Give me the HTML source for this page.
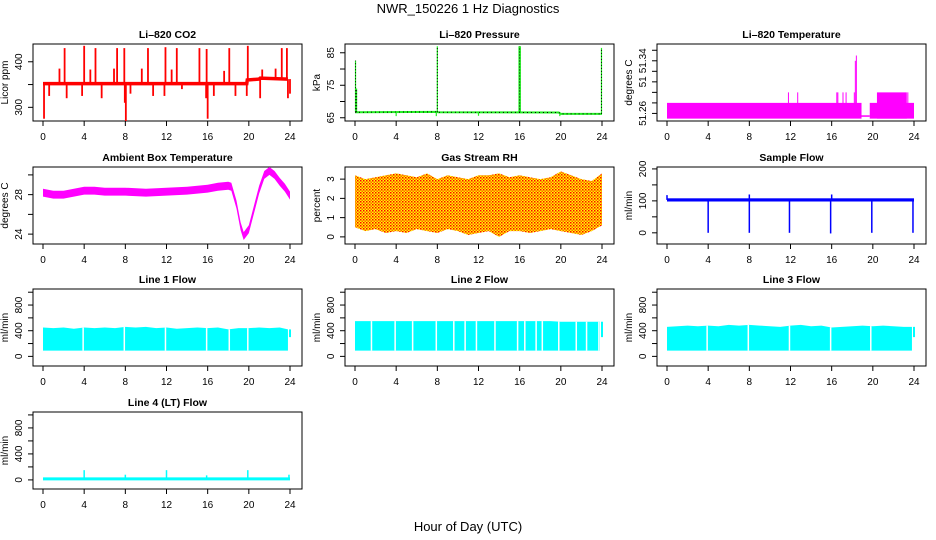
<!DOCTYPE html>
<html><head><meta charset="utf-8"><style>
body{margin:0;background:#fff}
svg{display:block;font-family:"Liberation Sans",sans-serif}
</style></head><body>
<svg id="chart" width="936" height="540" viewBox="0 0 936 540">
<defs>
<pattern id="rhpat" width="3" height="3" patternUnits="userSpaceOnUse">
<rect width="3" height="3" fill="#ffff00"/><rect x="0" y="0" width="1.5" height="1.5" fill="#ff0000"/><rect x="1.5" y="1.5" width="1.5" height="1.5" fill="#ff6000"/>
</pattern>
</defs>
<text x="468" y="13" text-anchor="middle" font-size="13">NWR_150226  1 Hz Diagnostics</text>
<text x="468" y="531" text-anchor="middle" font-size="13">Hour of Day (UTC)</text>
</svg>
<script>
const xTicks = [0,4,8,12,16,20,24];
// CO2
const co2BaseHours = [0,19.8,19.85,21.0,21.1,23.8];
const co2BaseVals = [352,352,360,362,364,362];
const co2SpikeHours = [2.1,4.0,5.1,7.2,7.9,10.2,11.9,13.0,15.2,15.9,18.1,19.9,23.2,23.7,1.6,4.6,6.9,9.6,12.5,17.6,21.3,22.6,0.1,0.6,2.3,3.8,5.7,7.95,8.05,8.5,10.7,11.8,13.5,15.85,16.0,16.6,18.7,19.8,21.1,23.8,24.0];
const co2SpikeVals = [430,435,430,430,430,430,432,430,430,428,430,435,430,430,385,383,385,385,383,380,383,385,275,325,320,325,320,310,270,330,325,325,340,320,275,325,325,325,320,320,330];
// Pressure
const presBaseHours = [0,0.2,7.9,8.1,19.8,20,24];
const presBaseVals = [66.7,66.7,66.8,66.7,66.6,66.2,66.2];
const presSpikeHours = [0.05,0.15,8.0,16.0,23.95,4.0,12.0,19.9,7.9];
const presSpikeVals = [82.6,74,87,87,86.5,65.5,65.6,65.5,65.5];
// Li-820 temperature
const tempBandStart = [0,19.7,20.4];
const tempBandEnd = [18.9,24,23.3];
const tempBandLow = [51.25,51.25,51.25];
const tempBandHigh = [51.28,51.28,51.30];
const tempFlatStart = [18.9];
const tempFlatEnd = [19.7];
const tempFlatVal = [51.255];
const tempSpikeHours = [11.8,12.7,16.5,16.6,17.1,17.4,18.2,18.3,18.4,23.4];
const tempSpikeVals = [51.30,51.30,51.30,51.30,51.30,51.30,51.30,51.36,51.37,51.30];
// Ambient box temperature
const ambHours = [0,1,2,3,4,5,6,8,10,12,14,16,17,18,18.3,18.8,19.2,19.5,20,20.5,21,21.5,22,22.5,23,23.5,24];
const ambVals = [28.2,28.0,28.0,28.2,28.4,28.4,28.3,28.3,28.2,28.3,28.4,28.6,28.8,28.9,28.8,27.0,24.8,23.8,24.5,26.5,28.5,30.0,30.4,30.0,29.3,28.7,27.9];
// Gas stream RH
const rhHours = [0,1,2,3,4,5,6,7,8,9,10,11,12,13,14,15,16,17,18,19,20,21,22,23,24];
const rhHigh = [3.2,3.0,3.1,3.2,3.3,3.2,3.1,3.3,3.0,3.2,3.1,3.0,3.2,3.2,3.3,3.1,3.2,3.1,3.0,3.1,3.4,3.2,3.0,2.9,3.3];
const rhLow = [0.5,0.3,0.4,0.2,0.3,0.2,0.4,0.3,0.2,0.4,0.3,0.1,0.2,0.3,0.0,0.3,0.3,0.2,0.3,0.4,0.3,0.2,0.1,0.3,0.6];
// Sample flow
const sfBase = [103];
const sfDipHours = [4.0,8.0,11.9,15.9,19.9,23.9];
const sfDipVals = [0,0,0,-2,0,0];
const sfSpikeHours = [0,8.0,16.0];
const sfSpikeVals = [118,120,120];
// Line flows
const lineHours = [0,1,2,3,4,5,6,7,8,9,10,11,12,13,14,15,16,17,18,19,20,21,22,23,23.8];
const line1High = [450,440,450,430,450,440,450,440,460,450,460,440,450,430,440,450,440,450,420,440,440,450,440,450,420];
const line1Gaps = [3.9,7.9,11.9,15.9,18.1,19.9];
const line2High = [550,550,550,550,550,550,550,550,550,550,550,550,550,550,550,550,550,550,550,550,540,540,540,540,540];
const line2Gaps = [1.6,3.9,5.6,7.9,9.6,10.7,11.8,13.6,15.8,16.5,17.6,18.2,19.8,21.5,22.5,23.7];
const line3High = [460,470,480,470,480,470,490,480,490,480,470,460,480,490,470,480,450,460,470,480,470,480,470,460,460];
const line3Gaps = [3.9,7.9,11.9,15.9,19.8];
const lineLow = [90];
const line4Base = [15];
const line4SpikeHours = [4.0,8.0,12.0,15.9,19.9,23.9];
const line4SpikeVals = [150,80,150,70,150,80];

const svg = document.getElementById('chart');
const NS = 'http://www.w3.org/2000/svg';
function mk(tag, attrs, parent){
  const e = document.createElementNS(NS, tag);
  for (const k in attrs) e.setAttribute(k, attrs[k]);
  (parent || svg).appendChild(e);
  return e;
}
const colX = [0,312,624];
const rowTop = [44,167,289,412];
const BH = 77;
function makePanel(col,row,ylim){
  const off = colX[col], top = rowTop[row];
  return {left:33+off, right:302+off, top:top, bottom:top+BH,
    x: h => 43+off + h*(247/24),
    y: v => top+BH - (v-ylim[0])/(ylim[1]-ylim[0])*BH};
}
function axes(p, key, title, ylab, yT, yL){
  const g = mk('g',{});
  
  
  const box = mk('rect',{x:p.left,y:p.top,width:p.right-p.left,height:BH,fill:'none',stroke:'#000','stroke-width':1},g);
  
  
  xTicks.forEach(h=>{
    const t = mk('line',{x1:p.x(h),x2:p.x(h),y1:p.bottom,y2:p.bottom+5,stroke:'#000'},g);
    
    
    const l = mk('text',{x:p.x(h),y:p.bottom+19,'text-anchor':'middle','font-size':10},g);
    
    
    l.textContent = h;
  });
  yT.forEach((v,i)=>{
    const y = p.y(v);
    const t = mk('line',{x1:p.left-5,x2:p.left,y1:y,y2:y,stroke:'#000'},g);
    
    
    if (yL[i]) {
      const l = mk('text',{x:p.left-11,y:y,'text-anchor':'middle','font-size':10,transform:`rotate(-90 ${p.left-11} ${y})`},g);
      
      
      l.textContent = yL[i];
    }
  });
  const tt = mk('text',{x:(p.left+p.right)/2,y:p.top-6,'text-anchor':'middle','font-size':10.5,'font-weight':'bold'},g);
  
  
  tt.textContent = title;
  const yc = (p.top+p.bottom)/2, yx = p.left-25;
  const yl = mk('text',{x:yx,y:yc,'text-anchor':'middle','font-size':10,transform:`rotate(-90 ${yx} ${yc})`},g);
  
  
  yl.textContent = ylab;
}
function interp(hs, vs, h){
  for (let i=0;i<hs.length-1;i++) if (h>=hs[i] && h<=hs[i+1]) {
    const f = (h-hs[i])/(hs[i+1]-hs[i]||1); return vs[i]+f*(vs[i+1]-vs[i]);
  }
  return vs[vs.length-1];
}
function vline(p,h,v0,v1,color,w,name){
  const e = mk('line',{x1:p.x(h),x2:p.x(h),y1:p.y(v0),y2:p.y(v1),stroke:color,'stroke-width':w});
  
  
  return e;
}
function band(p, hs, lows, highs, fill, name){
  let pts = hs.map((h,i)=>p.x(h)+','+p.y(highs[i]));
  pts = pts.concat(hs.slice().reverse().map((h,j)=>{const i=hs.length-1-j;return p.x(h)+','+p.y(lows[i]);}));
  const e = mk('polygon',{points:pts.join(' '),fill:fill});
  
  
  return e;
}

// CO2
let p = makePanel(0,0,[270,439]);
axes(p,'co2','Li\u2013820 CO2','Licor ppm',[300,350,400],['300','','400']);
co2SpikeHours.forEach((h,i)=>vline(p,h,interp(co2BaseHours,co2BaseVals,h),co2SpikeVals[i],'#ff0000',1.8,'co2-spike'));
let e = mk('polyline',{points:co2BaseHours.map((h,i)=>p.x(h)+','+p.y(co2BaseVals[i])).join(' '),fill:'none',stroke:'#ff0000','stroke-width':3.5});



// Pressure
p = makePanel(1,0,[64,87.7]);
axes(p,'pressure','Li\u2013820 Pressure','kPa',[65,70,75,80,85],['65','','75','','85']);
e = mk('polyline',{points:presBaseHours.map((h,i)=>p.x(h)+','+p.y(presBaseVals[i])).join(' '),fill:'none',stroke:'#22ee22','stroke-width':2});


e = mk('polyline',{points:presBaseHours.map((h,i)=>p.x(h)+','+p.y(presBaseVals[i])).join(' '),fill:'none',stroke:'#000','stroke-width':1,'stroke-dasharray':'1 3'});


presSpikeHours.forEach((h,i)=>{
  const b = interp(presBaseHours,presBaseVals,h);
  vline(p,h,b,presSpikeVals[i],'#22ee22',h>15.9&&h<16.1?2.5:1.2,'pressure-spike');
  if (presSpikeVals[i]>b+3) { const d=vline(p,h,b,presSpikeVals[i],'#000',1,'pressure-spike-points'); d.setAttribute('stroke-dasharray','1 2'); }
});

// Li-820 temperature
p = makePanel(2,0,[51.2456,51.3919]);
axes(p,'licor-temp','Li\u2013820 Temperature','degrees C',[51.26,51.28,51.30,51.32,51.34,51.36,51.38],['51.26','','','51','','51.34','']);
tempBandStart.forEach((s,i)=>band(p,[s,tempBandEnd[i]],[tempBandLow[i],tempBandLow[i]],[tempBandHigh[i],tempBandHigh[i]],'#ff00ff','licor-temp-band'));
tempFlatStart.forEach((s,i)=>{const f=mk('line',{x1:p.x(s),x2:p.x(tempFlatEnd[i]),y1:p.y(tempFlatVal[i]),y2:p.y(tempFlatVal[i]),stroke:'#ff00ff','stroke-width':1.5});
  
  });
tempSpikeHours.forEach((h,i)=>vline(p,h,51.27,tempSpikeVals[i],'#ff00ff',1,'licor-temp-spike'));

// Ambient box temp
p = makePanel(0,1,[23.0,30.8]);
axes(p,'ambient-temp','Ambient Box Temperature','degrees C',[24,26,28,30],['24','','28','']);
band(p,ambHours,ambVals.map(v=>v-0.4),ambVals.map(v=>v+0.4),'#ff00ff','ambient-temp-series');

// RH
p = makePanel(1,1,[-0.37,3.63]);
axes(p,'rh','Gas Stream RH','percent',[0,1,2,3],['0','1','2','3']);
band(p,rhHours,rhLow,rhHigh,'url(#rhpat)','rh-series');

// Sample flow
p = makePanel(2,1,[-35,206]);
axes(p,'sample-flow','Sample Flow','ml/min',[0,50,100,150,200],['0','','100','','200']);
e = mk('rect',{x:p.x(0),y:p.y(sfBase[0]+5),width:p.x(24)-p.x(0),height:p.y(sfBase[0]-5)-p.y(sfBase[0]+5),fill:'#0000ff'});


sfDipHours.forEach((h,i)=>vline(p,h,sfBase[0],sfDipVals[i],'#0000ff',1.5,'sample-flow-dip'));
sfSpikeHours.forEach((h,i)=>vline(p,h,sfBase[0],sfSpikeVals[i],'#0000ff',1.5,'sample-flow-spike'));

// Line flows
function lineFlow(col,row,key,title,highs,gaps){
  const q = makePanel(col,row,[-150,1050]);
  axes(q,key,title,'ml/min',[0,200,400,600,800,1000],['0','','400','','800','']);
  band(q,lineHours,lineHours.map(()=>lineLow[0]),highs,'#00ffff',key+'-series');
  gaps.forEach(h=>vline(q,h,lineLow[0],interp(lineHours,highs,h),'#ffffff',1.5,key+'-gap'));
  vline(q,24,300,highs[highs.length-1],'#00ffff',2,key+'-end');
}
lineFlow(0,2,'line1-flow','Line 1 Flow',line1High,line1Gaps);
lineFlow(1,2,'line2-flow','Line 2 Flow',line2High,line2Gaps);
lineFlow(2,2,'line3-flow','Line 3 Flow',line3High,line3Gaps);

// Line 4
p = makePanel(0,3,[-140,1045]);
axes(p,'line4-flow','Line 4 (LT) Flow','ml/min',[0,200,400,600,800,1000],['0','','400','','800','']);
e = mk('line',{x1:p.x(0),x2:p.x(24),y1:p.y(line4Base[0]),y2:p.y(line4Base[0]),stroke:'#00ffff','stroke-width':3});


line4SpikeHours.forEach((h,i)=>vline(p,h,line4Base[0],line4SpikeVals[i],'#00ffff',1.5,'line4-flow-spike'));
</script>
</body></html>
